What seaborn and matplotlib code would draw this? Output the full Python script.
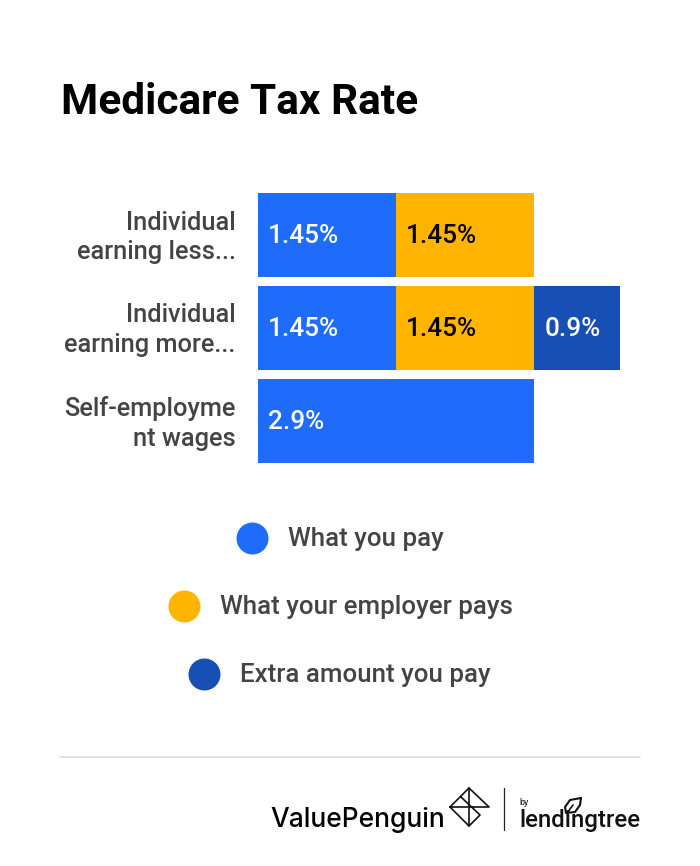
import numpy as np
import pandas as pd
import seaborn as sns
import matplotlib.pyplot as plt
from matplotlib.transforms import ScaledTranslation

sns.set_theme(style='white')
plt.rcParams['font.family'] = ['Roboto', 'DejaVu Sans']

W, H = 700, 866

categories = ['Individual\nearning less...', 'Individual\nearning more...', 'Self-employme\nnt wages']
you_pay = [1.45, 1.45, 2.9]
employer_pays = [1.45, 1.45, 0]
extra_pay = [0, 0.9, 0]
series_names = ['What you pay', 'What your employer pays', 'Extra amount you pay']
colors = ['#1f6cfa', '#ffb400', '#174fb5']
label_colors = ['white', 'black', 'white']
legend_x = [252, 184, 204]
legend_y = [538, 606, 674]

df = pd.DataFrame({'cat': categories, 'you': you_pay, 'emp': employer_pays, 'extra': extra_pay})
df['emp_top'] = df['you'] + df['emp']
df['extra_top'] = df['emp_top'] + df['extra']

fig = plt.figure(figsize=(W / 100, H / 100), dpi=100, facecolor='white')
ax = fig.add_axes([258 / W, 1 - 467.5 / H, 362 / W, 279 / H])

# stacked by drawing the totals back to front
for col, c in zip(['extra_top', 'emp_top', 'you'], [colors[2], colors[1], colors[0]]):
    sns.barplot(data=df, y='cat', x=col, color=c, width=0.903, saturation=1, ax=ax, linewidth=0)

ax.set_xlim(0, 3.8)
ax.set_xlabel('')
ax.set_ylabel('')
ax.set_xticks([])
ax.tick_params(axis='y', length=0, pad=16)
for lab in ax.get_yticklabels():
    lab.set_fontsize(18.3)
    lab.set_fontweight('medium')
    lab.set_color('#444444')
    lab.set_linespacing(1.3)
    lab.set_transform(lab.get_transform() + ScaledTranslation(0, 3 / 100, fig.dpi_scale_trans))
sns.despine(ax=ax, left=True, bottom=True)

# value labels
for i in range(len(categories)):
    left = 0
    for vals, col in zip([you_pay, employer_pays, extra_pay], label_colors):
        v = vals[i]
        if v > 0:
            ax.annotate(f'{v:g}%', (left, i), xytext=(7.2, -1), textcoords='offset points',
                        color=col, fontsize=18.8, fontweight='medium', va='center', ha='left')
        left += v

# overlay in pixel coordinates for title, legend and footer
ov = fig.add_axes([0, 0, 1, 1], facecolor='none')
ov.set_xlim(0, W)
ov.set_ylim(H, 0)
ov.axis('off')

ov.text(61, 103, 'Medicare Tax Rate', fontsize=30.5, fontweight='bold', color='black', va='center', ha='left')

for name, c, x, y in zip(series_names, colors, legend_x, legend_y):
    ov.scatter([x], [y], s=(32 * 0.72) ** 2, color=c, linewidth=0)
    ov.text(x + 36.5, y + 1, name, fontsize=18.6, fontweight='medium', color='#444444', va='center', ha='left')

ov.plot([60, 640], [757, 757], color='#dddddd', lw=1.2)
ov.plot([504, 504], [788, 830], color='#222222', lw=0.9)

# footer logos
ov.text(270, 827, 'ValuePenguin', fontsize=19, fontweight='medium', color='black', va='baseline', ha='left', family='Inter')
ov.plot([450, 469, 489, 450, 469, 480, 461], [807, 788, 807, 807, 826, 815, 797], color='#111111', lw=1.2)
ov.plot([469, 469], [788, 826], color='#111111', lw=1.2)
ov.text(519, 805, 'by', fontsize=6.5, color='#111111', va='baseline', ha='left')
ov.text(519, 827, 'lendingtree', fontsize=17.3, fontweight='medium', color='#111111', va='baseline', ha='left')
ov.plot([581, 570, 565, 566, 575, 580, 581], [798, 800, 807, 813, 812, 805, 798], color='#111111', lw=1.5)
ov.plot([567, 573], [813, 805], color='#111111', lw=1.2)

fig.savefig('out.png', dpi=100, facecolor='white')
